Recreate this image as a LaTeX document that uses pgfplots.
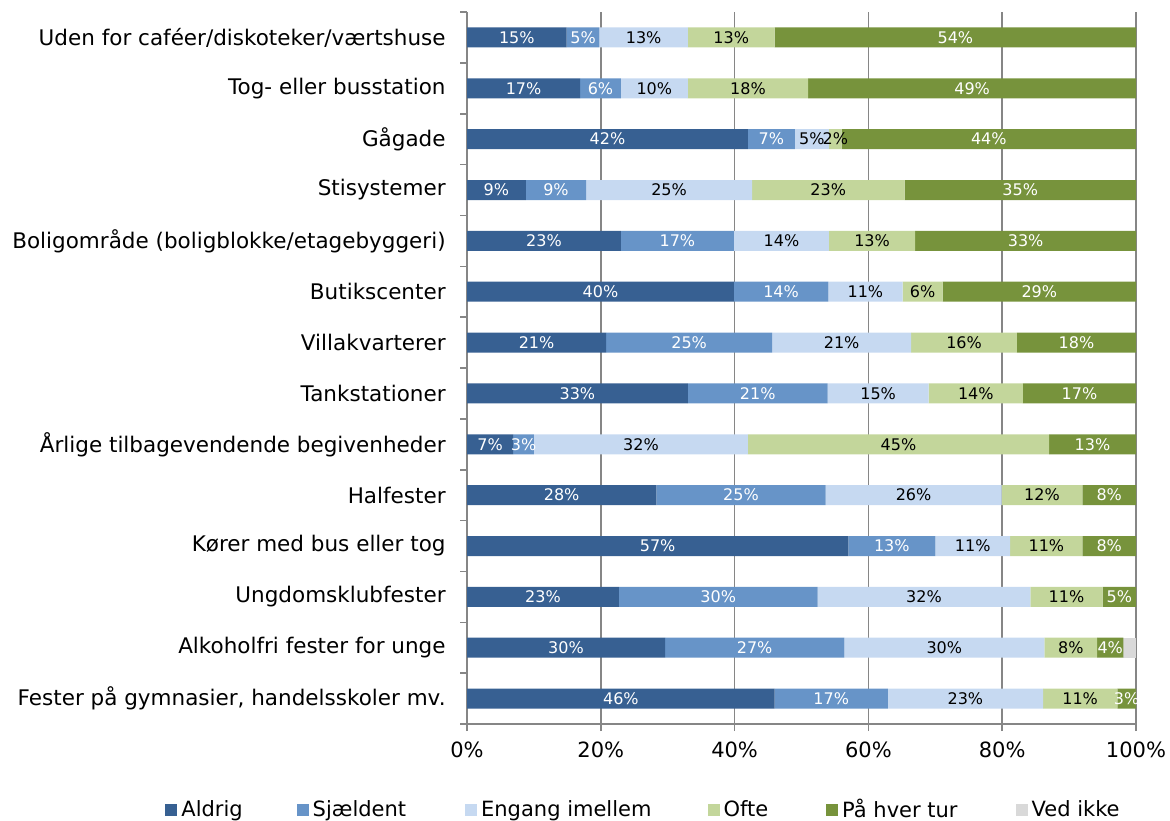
\documentclass[border=0pt]{standalone}
\usepackage{pgfplots}
\pgfplotsset{compat=1.18}
\usepackage{pgfplotstable}
\usepackage{fontspec}
\setmainfont{DejaVu Sans}
\definecolor{cA}{HTML}{376092}
\definecolor{cB}{HTML}{6794C8}
\definecolor{cC}{HTML}{C6D9F1}
\definecolor{cD}{HTML}{C3D69B}
\definecolor{cE}{HTML}{77933C}
\definecolor{cF}{HTML}{D9D9D9}
\definecolor{axgrey}{HTML}{868686}
\pgfplotstableread{
idx aldrig sjaeld engang ofte hver ved
0 14.9 4.9 13.2 13.0 54.0 0
1 16.9 6.1 10.0 18.0 49.0 0
2 42.0 7.0 5.1 1.9 44.0 0
3 8.8 9.0 24.8 22.8 34.6 0
4 23.0 16.9 14.2 12.9 33.0 0
5 39.9 14.1 11.1 6.0 28.9 0
6 20.8 24.8 20.8 15.8 17.8 0
7 33.0 20.9 15.1 14.1 16.9 0
8 6.9 3.1 32.0 45.0 13.0 0
9 28.3 25.3 26.3 12.1 8.0 0
10 57.0 13.0 11.2 10.8 8.0 0
11 22.7 29.7 31.8 10.8 5.0 0
12 29.6 26.8 29.9 7.9 3.9 1.9
13 46.0 16.9 23.2 11.1 2.8 0
}\data
\begin{document}
\begin{tikzpicture}
\path[use as bounding box] (0,0) rectangle (585pt,-410pt);
\begin{axis}[
  at={(233.5pt,-362pt)}, anchor=south west,
  scale only axis, width=334.5pt, height=356pt,
  xbar stacked, bar width=10pt,
  xmin=0, xmax=100, ymin=-0.5, ymax=13.5, y dir=reverse,
  axis lines*=left,
  axis line style={axgrey, line width=0.8pt, -},
  clip=false,
  xtick={0,20,...,100},
  xticklabel={\pgfmathprintnumber{\tick}\%},
  /pgf/number format/assume math mode=true,
  ytick={0,...,13},
  yticklabels={Uden for caféer/diskoteker/værtshuse, Tog- eller busstation, Gågade, Stisystemer, Boligområde (boligblokke/etagebyggeri), Butikscenter, Villakvarterer, Tankstationer, Årlige tilbagevendende begivenheder, Halfester, Kører med bus eller tog, Ungdomsklubfester, Alkoholfri fester for unge, {Fester på gymnasier, handelsskoler mv.}},
  minor ytick={-0.5,0.5,...,13.5},
  major y tick style={draw=none},
  minor y tick style={axgrey, line width=0.8pt},
  major x tick style={axgrey, line width=0.8pt},
  major tick length=3.5pt, minor tick length=3.5pt,
  tick align=outside,
  xmajorgrids, grid style={axgrey, line width=0.8pt},
  yticklabel style={inner sep=0pt, anchor=east, xshift=-7pt, font=\fontsize{10.75}{12}\selectfont},
  xticklabel style={inner sep=0pt, anchor=north, yshift=-5pt, font=\fontsize{10.5}{12}\selectfont},
  visualization depends on=rawx \as \rawx,
  nodes near coords={\pgfmathprintnumber[fixed,precision=0]{\rawx}\%},
  every node near coord/.style={anchor=center, inner sep=0pt,
      font=\fontsize{8}{9}\selectfont},
  legend columns=6,
  legend style={draw=none, fill=none, at={(-0.4514,-0.1208)}, anchor=west, inner sep=0pt,
    font=\fontsize{10.5}{12}\selectfont,
    /tikz/column 2/.style={column sep=25pt},
    /tikz/column 4/.style={column sep=27.5pt},
    /tikz/column 6/.style={column sep=26pt},
    /tikz/column 8/.style={column sep=27pt},
    /tikz/column 10/.style={column sep=27pt}},
  legend image code/.code={\fill[#1] (0pt,-3pt) rectangle (6pt,3pt);},
]
\addplot[fill=cA, draw=none, nodes near coords style={text=white}] table[x=aldrig, y=idx]{\data};
\addplot[fill=cB, draw=none, nodes near coords style={text=white}] table[x=sjaeld, y=idx]{\data};
\addplot[fill=cC, draw=none, nodes near coords style={text=black}] table[x=engang, y=idx]{\data};
\addplot[fill=cD, draw=none, nodes near coords style={text=black}] table[x=ofte, y=idx]{\data};
\addplot[fill=cE, draw=none, nodes near coords style={text=white}] table[x=hver, y=idx]{\data};
\addplot[fill=cF, draw=none, nodes near coords={}] table[x=ved, y=idx]{\data};
\legend{Aldrig, Sjældent, Engang imellem, Ofte, På hver tur, Ved ikke}
\end{axis}
\end{tikzpicture}
\end{document}
